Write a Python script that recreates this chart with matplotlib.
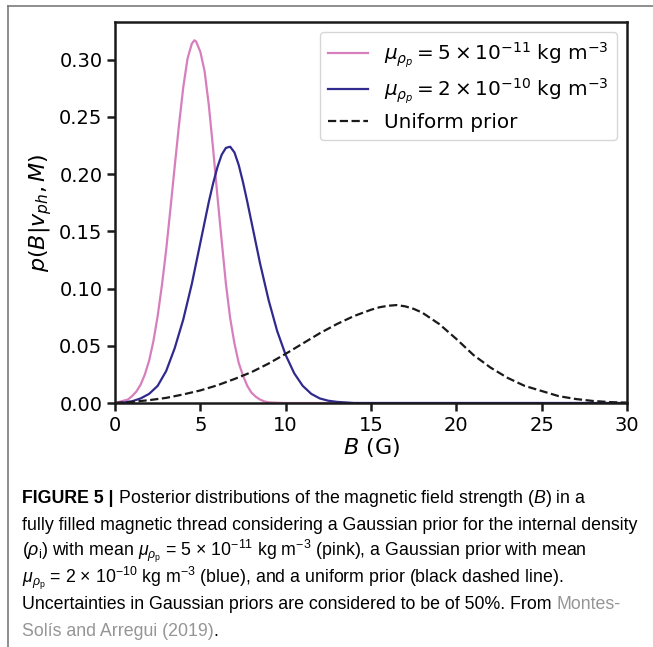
"""
Posterior of magnetic field strength B for two Gaussian density priors and a
uniform prior (Frontiers figure 5 style, with caption underneath).
"""

import matplotlib
matplotlib.use("Agg")
import matplotlib.pyplot as plt
from matplotlib.lines import Line2D

# values
b_pink = [0.0, 0.5, 0.75, 1.0, 1.25, 1.5, 1.75, 2.0, 2.25, 2.5, 2.75, 3.0, 3.25,
          3.5, 3.75, 4.0, 4.25, 4.5, 4.65, 4.75, 5.0, 5.25, 5.5, 5.75, 6.0, 6.25,
          6.5, 6.75, 7.0, 7.25, 7.5, 7.75, 8.0, 8.25, 8.5, 8.75, 9.0, 9.5, 10.0, 30.0]
p_pink = [0.0, 0.002, 0.003, 0.006, 0.010, 0.016, 0.025, 0.037, 0.054, 0.076,
          0.103, 0.134, 0.170, 0.207, 0.243, 0.276, 0.301, 0.314, 0.317, 0.316,
          0.307, 0.290, 0.260, 0.222, 0.181, 0.142, 0.104, 0.074, 0.052, 0.035,
          0.024, 0.015, 0.009, 0.0055, 0.003, 0.0014, 0.0006, 0.0002, 0.0, 0.0]

b_blue = [0.0, 0.5, 1.0, 1.5, 2.0, 2.5, 3.0, 3.5, 4.0, 4.5, 5.0, 5.5, 5.75, 6.0,
          6.25, 6.5, 6.75, 7.0, 7.25, 7.5, 7.75, 8.0, 8.5, 9.0, 9.5, 10.0, 10.5,
          11.0, 11.5, 12.0, 12.5, 13.0, 14.0, 30.0]
p_blue = [0.0, 0.0005, 0.0015, 0.004, 0.008, 0.015, 0.028, 0.048, 0.073, 0.104,
          0.140, 0.176, 0.192, 0.206, 0.217, 0.223, 0.224, 0.219, 0.208, 0.193,
          0.176, 0.158, 0.122, 0.090, 0.063, 0.042, 0.026, 0.015, 0.008, 0.004,
          0.002, 0.001, 0.0, 0.0]

b_unif = [0, 1, 2, 3, 4, 5, 6, 7, 8, 9, 10, 11, 12, 13, 14, 15, 15.5, 16, 16.5,
          17, 17.5, 18, 19, 20, 21, 22, 23, 24, 25, 26, 27, 28, 29, 30]
p_unif = [0.0, 0.001, 0.0025, 0.0045, 0.0075, 0.011, 0.0155, 0.021, 0.027, 0.0345,
          0.043, 0.052, 0.061, 0.069, 0.076, 0.0815, 0.0837, 0.085, 0.0856, 0.0845,
          0.0823, 0.079, 0.069, 0.056, 0.042, 0.031, 0.022, 0.015, 0.0105, 0.006,
          0.0035, 0.0018, 0.0008, 0.0003]

labels = [r"$\mu_{\rho_p} = 5 \times 10^{-11}$ kg m$^{-3}$",
          r"$\mu_{\rho_p} = 2 \times 10^{-10}$ kg m$^{-3}$",
          "Uniform prior"]
colors = ["#d77fbd", "#302a8e", "#1a1a1a"]

x_ticks = [0, 5, 10, 15, 20, 25, 30]
y_ticks = [0.00, 0.05, 0.10, 0.15, 0.20, 0.25, 0.30]

CAP_FONT = ["Liberation Sans", "DejaVu Sans"]
GREY = "#959595"
# caption lines, each a list of (text, colour, bold) segments
caption = [
    [("FIGURE 5 |", "black", True),
     (" Posterior distributions of the magnetic field strength ($B$) in a", "black", False)],
    [("fully filled magnetic thread considering a Gaussian prior for the internal density", "black", False)],
    [(r"($\rho_\mathrm{i}$) with mean $\mu_{\rho_\mathrm{p}}$ = 5 × 10$^{-11}$ kg m$^{-3}$ (pink), "
      "a Gaussian prior with mean", "black", False)],
    [(r"$\mu_{\rho_\mathrm{p}}$ = 2 × 10$^{-10}$ kg m$^{-3}$ (blue), and a uniform prior "
      "(black dashed line).", "black", False)],
    [("Uncertainties in Gaussian priors are considered to be of 50%. From ", "black", False),
     ("Montes-", GREY, False)],
    [("Solís and Arregui (2019)", GREY, False), (".", "black", False)],
]


def main():
    plt.rcParams["mathtext.fontset"] = "dejavusans"
    plt.rcParams["mathtext.rm"] = "Liberation Sans"
    plt.rcParams["mathtext.it"] = "Liberation Sans:italic"
    plt.rcParams["mathtext.bf"] = "Liberation Sans:bold"

    fig = plt.figure(figsize=(6.53, 6.47), dpi=100)
    ax = fig.add_axes([0.1761, 0.3771, 0.7841, 0.5889])

    ax.plot(b_pink, p_pink, color=colors[0], lw=1.6, label=labels[0])
    ax.plot(b_blue, p_blue, color=colors[1], lw=1.6, label=labels[1])
    ax.plot(b_unif, p_unif, color=colors[2], lw=1.6, ls="--", label=labels[2])

    ax.set_xlim(0, 30); ax.set_ylim(0, 0.333)
    ax.set_xticks(x_ticks); ax.set_yticks(y_ticks)
    ax.set_xticklabels([str(t) for t in x_ticks])
    ax.set_yticklabels([f"{t:.2f}" for t in y_ticks])
    ax.tick_params(labelsize=14, width=1.8, length=6, pad=3, color="#1a1a1a")
    for s in ax.spines.values():
        s.set_linewidth(1.8); s.set_color("#1a1a1a")
    ax.set_xlabel(r"$B$ (G)", fontsize=16, labelpad=1)
    ax.set_ylabel(r"$p(B|v_{ph}, M)$", fontsize=16, labelpad=4)
    ax.legend(loc="upper right", fontsize=14.4, handlelength=2.0, borderpad=0.4,
              labelspacing=0.35, handletextpad=0.8)

    # thin grey frame of the journal page (top and left edges)
    fig.add_artist(Line2D([8 / 653, 8 / 653], [0, 1 - 6 / 647], color="#7a7a7a", lw=1.2))
    fig.add_artist(Line2D([8 / 653, 1], [1 - 6 / 647, 1 - 6 / 647], color="#7a7a7a", lw=1.2))

    # caption, placed segment by segment
    fig.canvas.draw()
    r = fig.canvas.get_renderer()
    x0, y0, dy = 22 / 653, 1 - 503 / 647, 26.6 / 647
    for i, line in enumerate(caption):
        x = x0
        for txt, col, bold in line:
            t = fig.text(x, y0 - i * dy, txt, family=CAP_FONT, fontsize=12.75,
                         color=col, weight="bold" if bold else "normal",
                         math_fontfamily="custom", va="baseline")
            x += t.get_window_extent(r).width / fig.bbox.width

    fig.savefig("out.png", dpi=100)


if __name__ == "__main__":
    main()
